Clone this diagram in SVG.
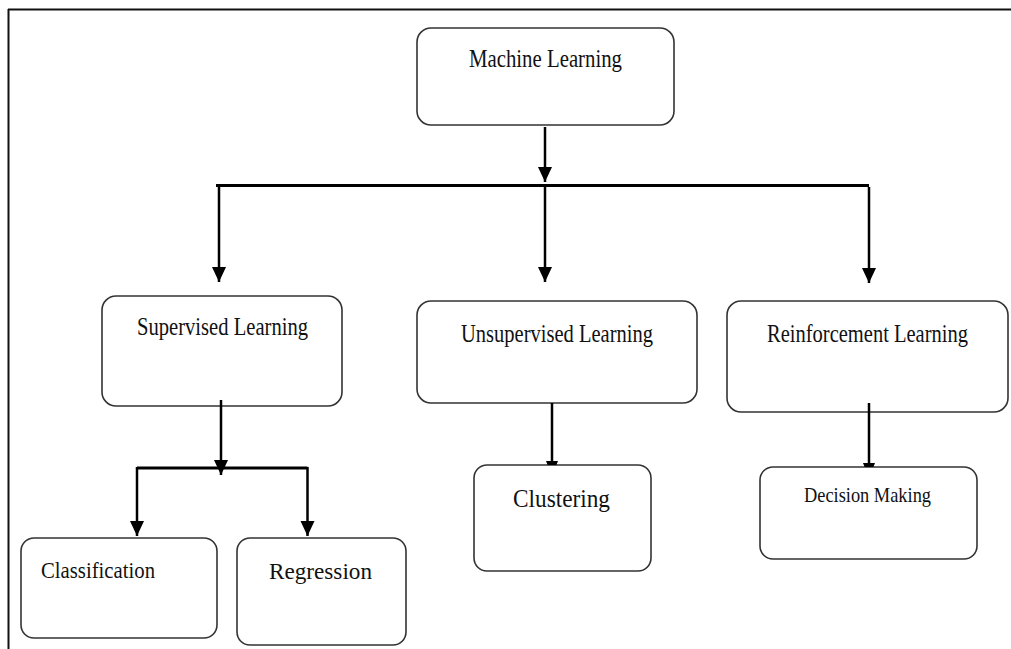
<svg xmlns="http://www.w3.org/2000/svg" width="1011" height="649" viewBox="0 0 1011 649">
<style>
.box{fill:#fff;stroke:#333;stroke-width:1.6}
.lbl{font-family:"Liberation Serif","Times New Roman",serif;fill:#111}
.c{fill:none;stroke:#000;stroke-width:2.5}
.bar{fill:none;stroke:#000;stroke-width:3}
.frame{fill:none;stroke:#111;stroke-width:2}
</style>
<defs>
<marker id="arr" markerUnits="userSpaceOnUse" markerWidth="16" markerHeight="15" refX="15" refY="7" orient="auto">
<path d="M0,0 L15,7 L0,14 z" fill="#000"/>
</marker>
</defs>
<g id="frame">
<path class="frame" d="M8,9.5 H1011 M8.5,9 V649"/>
</g>
<g id="n-ml">
<rect class="box" x="417" y="28" width="257" height="97" rx="14"/>
<text class="lbl" x="469" y="67" font-size="25" textLength="153" lengthAdjust="spacingAndGlyphs">Machine Learning</text>
</g>
<g id="n-sl">
<rect class="box" x="102" y="296" width="240" height="110" rx="14"/>
<text class="lbl" x="137" y="335" font-size="24.5" textLength="171" lengthAdjust="spacingAndGlyphs">Supervised Learning</text>
</g>
<g id="n-ul">
<rect class="box" x="417" y="301" width="280" height="102" rx="14"/>
<text class="lbl" x="461" y="342" font-size="25" textLength="192" lengthAdjust="spacingAndGlyphs">Unsupervised Learning</text>
</g>
<g id="n-rl">
<rect class="box" x="727" y="301" width="281" height="111" rx="14"/>
<text class="lbl" x="767" y="342" font-size="25" textLength="201" lengthAdjust="spacingAndGlyphs">Reinforcement Learning</text>
</g>
<g id="n-cls">
<rect class="box" x="21" y="538" width="196" height="100" rx="13"/>
<text class="lbl" x="41" y="578" font-size="24" textLength="114" lengthAdjust="spacingAndGlyphs">Classification</text>
</g>
<g id="n-reg">
<rect class="box" x="237" y="538" width="169" height="107" rx="13"/>
<text class="lbl" x="269" y="579" font-size="24" textLength="103" lengthAdjust="spacingAndGlyphs">Regression</text>
</g>
<g id="n-clu">
<rect class="box" x="474" y="465" width="177" height="106" rx="13"/>
<text class="lbl" x="513" y="507" font-size="25" textLength="97" lengthAdjust="spacingAndGlyphs">Clustering</text>
</g>
<g id="n-dm">
<rect class="box" x="760" y="467" width="217" height="92" rx="13"/>
<text class="lbl" x="804" y="502" font-size="21.5" textLength="127" lengthAdjust="spacingAndGlyphs">Decision Making</text>
</g>
<g id="connectors">
<path class="c" d="M545,127 V182" marker-end="url(#arr)"/>
<path class="bar" d="M216,185.5 H869"/>
<path class="c" d="M219,185 V282" marker-end="url(#arr)"/>
<path class="c" d="M545,185 V282" marker-end="url(#arr)"/>
<path class="c" d="M869,187 V283" marker-end="url(#arr)"/>
<path class="c" d="M221,400 V475" marker-end="url(#arr)"/>
<path class="bar" d="M137,468 H307.5"/>
<path class="c" d="M137,467 V536" marker-end="url(#arr)"/>
<path class="c" d="M307.5,467 V536" marker-end="url(#arr)"/>
<path class="c" d="M552,403 V462"/>
<polygon points="546,461 558,461 556.4,465 547.6,465" fill="#000"/>
<path class="c" d="M869,403 V464"/>
<polygon points="863,463 875,463 873.4,467 864.6,467" fill="#000"/>
</g>
</svg>
